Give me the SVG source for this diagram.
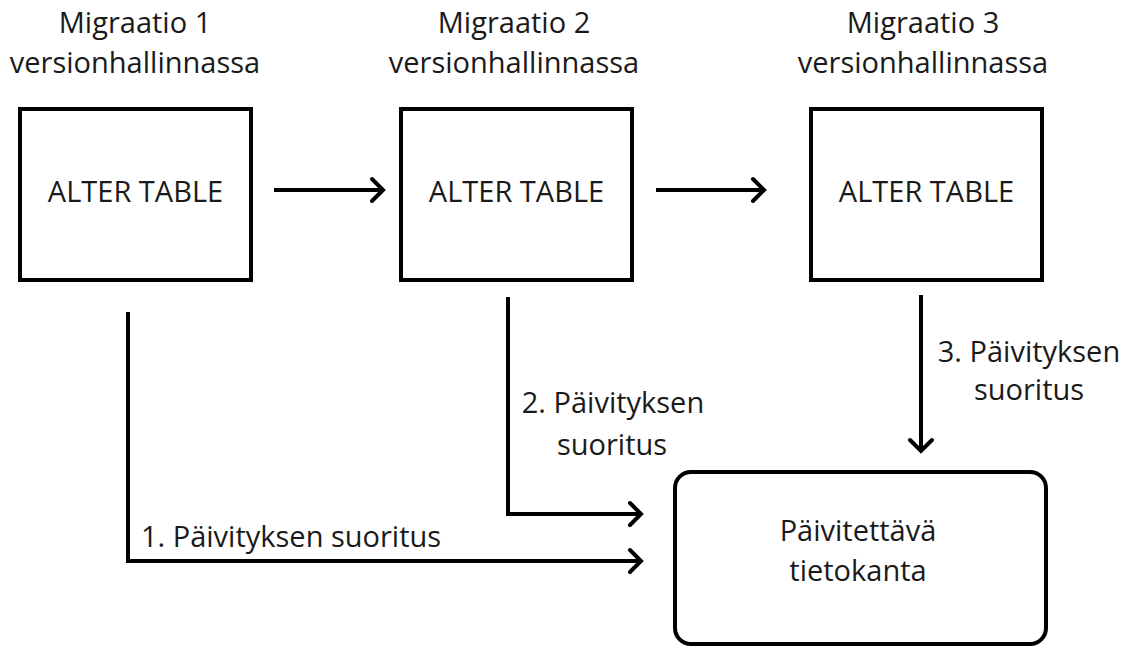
<svg xmlns="http://www.w3.org/2000/svg" width="1136" height="648" viewBox="0 0 1136 648">
  <style>
    text { font-family: "Open Sans", "Liberation Sans", sans-serif; font-size: 29px; fill: #1a1a1a; }
    .c { text-anchor: middle; }
    .box { fill: #ffffff; stroke: #000000; stroke-width: 4; }
    .wire { fill: none; stroke: #000000; stroke-width: 4; }
  </style>
  <defs>
    <marker id="arrow" markerUnits="userSpaceOnUse" markerWidth="30" markerHeight="30" refX="0" refY="0" viewBox="-16 -15 20 30" orient="auto" overflow="visible">
      <path d="M-11,-11 L0,0 L-11,11" fill="none" stroke="#000000" stroke-width="4" stroke-linecap="round" stroke-linejoin="miter"/>
    </marker>
  </defs>
  <rect width="1136" height="648" fill="#ffffff"/>

  <!-- migration steps kept in version control -->
  <g id="migration1">
    <text class="c" x="135" y="33">Migraatio 1</text>
    <text class="c" x="135" y="73">versionhallinnassa</text>
    <rect class="box" x="20" y="109" width="231" height="171"/>
    <text class="c" x="135.5" y="202">ALTER TABLE</text>
  </g>
  <g id="migration2">
    <text class="c" x="514" y="33">Migraatio 2</text>
    <text class="c" x="514" y="73">versionhallinnassa</text>
    <rect class="box" x="401" y="109" width="231" height="171"/>
    <text class="c" x="516.5" y="202">ALTER TABLE</text>
  </g>
  <g id="migration3">
    <text class="c" x="923" y="33">Migraatio 3</text>
    <text class="c" x="923" y="73">versionhallinnassa</text>
    <rect class="box" x="811" y="109" width="231" height="171"/>
    <text class="c" x="926.5" y="202">ALTER TABLE</text>
  </g>

  <!-- target database -->
  <g id="database">
    <rect class="box" x="675" y="472" width="371" height="172" rx="16" ry="16"/>
    <text class="c" x="858" y="541">Päivitettävä</text>
    <text class="c" x="858" y="581">tietokanta</text>
  </g>

  <!-- connectors -->
  <g id="connectors">
    <path class="wire" d="M274,190 H383" marker-end="url(#arrow)"/>
    <path class="wire" d="M656,190 H764" marker-end="url(#arrow)"/>
    <path class="wire" d="M128,312 V561 H641" marker-end="url(#arrow)"/>
    <path class="wire" d="M508,297 V514 H641" marker-end="url(#arrow)"/>
    <path class="wire" d="M921,295 V451" marker-end="url(#arrow)"/>
    <text x="141" y="547">1. Päivityksen suoritus</text>
    <text class="c" x="613" y="413">2. Päivityksen</text>
    <text class="c" x="612" y="455">suoritus</text>
    <text class="c" x="1029" y="362">3. Päivityksen</text>
    <text class="c" x="1029" y="400">suoritus</text>
  </g>
</svg>
